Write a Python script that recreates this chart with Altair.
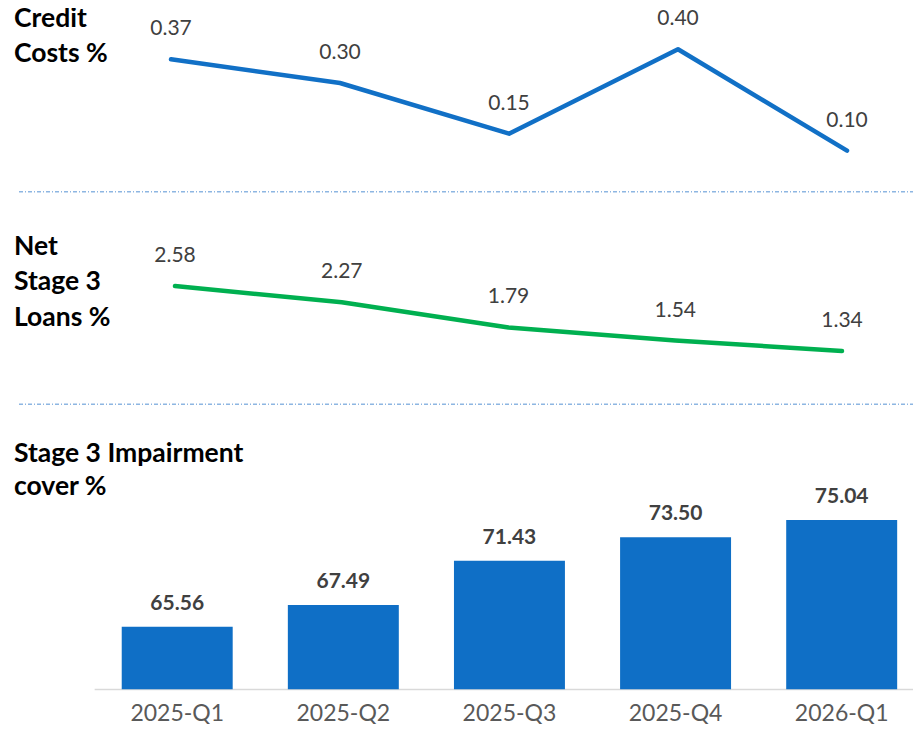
import altair as alt
import pandas as pd

# ---- data ----
quarters = ["2025-Q1", "2025-Q2", "2025-Q3", "2025-Q4", "2026-Q1"]
credit_costs = [0.37, 0.30, 0.15, 0.40, 0.10]
net_stage3_loans = [2.58, 2.27, 1.79, 1.54, 1.34]
impairment_cover = [65.56, 67.49, 71.43, 73.50, 75.04]

title_credit = ["Credit", "Costs %"]
title_net = ["Net", "Stage 3", "Loans %"]
title_cover = ["Stage 3 Impairment", "cover %"]

# ---- layout / style ----
W, H = 816, 681
FONT = "Lato"
BLUE = "#1170C6"
GREEN = "#00B050"
LABEL = "#404040"
SEP = "#8DB6E2"

df_cc = pd.DataFrame({"q": quarters, "v": credit_costs})
df_ns = pd.DataFrame({"q": quarters, "v": net_stage3_loans})
df_ic = pd.DataFrame({"q": quarters, "v": impairment_cover})
one = pd.DataFrame({"a": [0]})

layers = []

# panel titles
def add_title(lines, first_baseline, lh):
    for i, t in enumerate(lines):
        layers.append(
            alt.Chart(one).mark_text(
                font=FONT, fontSize=26.5, fontWeight="bold", color="#000000",
                align="left", baseline="alphabetic"
            ).encode(x=alt.value(-83), y=alt.value(first_baseline + i * lh), text=alt.value(t))
        )

add_title(title_credit, 18.7, 35)
add_title(title_net, 247, 35.3)
add_title(title_cover, 453.7, 33.3)

# dotted separators
for yy in [183.7, 396.3]:
    layers.append(
        alt.Chart(one).mark_rule(color=SEP, strokeWidth=1.6, strokeDash=[4, 2, 1, 2]).encode(
            x=alt.value(-78), x2=alt.value(W), y=alt.value(yy)
        )
    )

# Credit costs line
x_cc = alt.X("q:N", sort=quarters, scale=alt.Scale(type="point", domain=quarters, range=[74, 750], padding=0), axis=None)
y_cc = alt.Y("v:Q", scale=alt.Scale(domain=[0.10, 0.40], range=[142.6, 41.2], zero=False, nice=False), axis=None)
layers.append(
    alt.Chart(df_cc).mark_line(color=BLUE, strokeWidth=4.5, strokeCap="round", strokeJoin="round").encode(x=x_cc, y=y_cc)
)
layers.append(
    alt.Chart(df_cc).mark_text(font=FONT, fontSize=21, color=LABEL, baseline="alphabetic", dy=-24).encode(
        x=x_cc, y=y_cc, text=alt.Text("v:Q", format=".2f")
    )
)

# Net stage 3 loans line
x_ns = alt.X("q:N", sort=quarters, scale=alt.Scale(type="point", domain=quarters, range=[78, 745], padding=0), axis=None)
y_ns = alt.Y("v:Q", scale=alt.Scale(domain=[1.34, 2.58], range=[343, 278], zero=False, nice=False), axis=None)
layers.append(
    alt.Chart(df_ns).mark_line(color=GREEN, strokeWidth=4.5, strokeCap="round", strokeJoin="round").encode(x=x_ns, y=y_ns)
)
layers.append(
    alt.Chart(df_ns).mark_text(font=FONT, fontSize=21, color=LABEL, baseline="alphabetic", dy=-24).encode(
        x=x_ns, y=y_ns, text=alt.Text("v:Q", format=".2f")
    )
)

# Impairment cover bars
band = alt.Scale(type="band", domain=quarters, range=[-2.85, 827.75], paddingInner=0.332, paddingOuter=0.166)
x_ic = alt.X(
    "q:N", sort=quarters, title=None, scale=band,
    axis=alt.Axis(
        domain=True, domainColor="#D9D9D9", domainWidth=1.5, ticks=False, tickSize=0, grid=False,
        labelFont=FONT, labelFontSize=23, labelColor="#595959", labelPadding=31,
        labelBaseline="alphabetic", labelAngle=0,
    ),
)
y_ic = alt.Y("v:Q", scale=alt.Scale(domain=[60, 80], range=[681.3, 456.2], zero=False, nice=False), axis=None)
layers.append(
    alt.Chart(df_ic).mark_bar(color="#0F6FC6").encode(x=x_ic, y=y_ic, y2=alt.datum(60))
)
layers.append(
    alt.Chart(df_ic).mark_text(font=FONT, fontSize=21, fontWeight="bold", color=LABEL, baseline="alphabetic", dy=-17).encode(
        x=alt.X("q:N", sort=quarters, scale=band, axis=None),
        y=y_ic, text=alt.Text("v:Q", format=".2f")
    )
)

chart = (
    alt.layer(*layers)
    .resolve_scale(x="independent", y="independent")
    .properties(
        width=W, height=H,
        autosize=alt.AutoSizeParams(type="none"),
        padding={"left": 89, "top": 0, "right": 0, "bottom": 35},
        background="white",
    )
    .configure_view(stroke=None)
)

chart.save("out.html", embed_options={"renderer": "svg", "actions": False})
